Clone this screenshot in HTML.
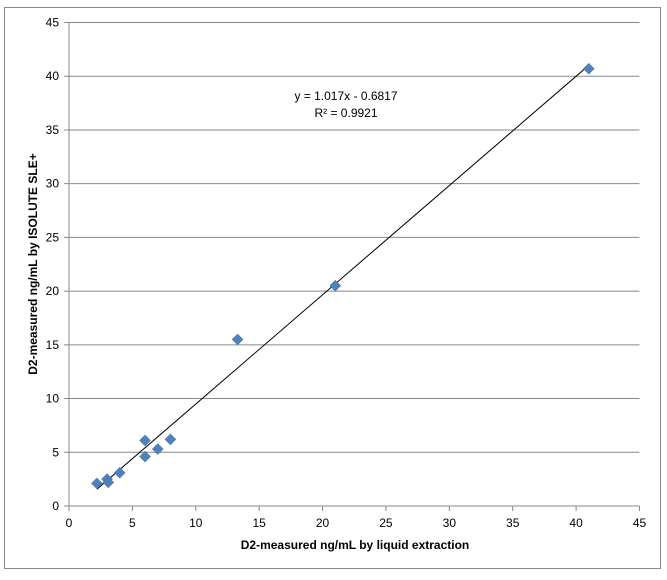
<!DOCTYPE html>
<html><head><meta charset="utf-8"><style>
body{margin:0;background:#fff;}
svg text{font-family:"Liberation Sans",sans-serif;}
</style></head><body>
<svg id="chart" width="667" height="575" xmlns="http://www.w3.org/2000/svg">
<rect x="4.5" y="7.5" width="656" height="561" fill="#fff" stroke="#888"/>
<g id="grid"></g><g id="ticks"></g><g id="marks"></g>
<text x="346" y="100" font-size="12" text-anchor="middle">y = 1.017x - 0.6817</text>
<text x="346" y="117" font-size="12" text-anchor="middle">R² = 0.9921</text>
<text x="355" y="549" font-size="12" font-weight="bold" text-anchor="middle">D2-measured ng/mL by liquid extraction</text>
<text transform="translate(37,264) rotate(-90)" font-size="12" font-weight="bold" text-anchor="middle">D2-measured ng/mL by ISOLUTE SLE+</text>
</svg>
<script>
const xTicks=[0,5,10,15,20,25,30,35,40,45];
const yTicks=[0,5,10,15,20,25,30,35,40,45];
const xValues=[2.2,3,3.1,4,6,6,7,8,13.3,21,41];
const yValues=[2.1,2.5,2.2,3.1,6.1,4.6,5.3,6.2,15.5,20.5,40.7];
const slope=1.017, intercept=-0.6817;
const X0=69,X1=639.5,Y0=506,Y1=22.5;
const sx=v=>X0+(v/45)*(X1-X0), sy=v=>Y0-(v/45)*(Y0-Y1);
const NS="http://www.w3.org/2000/svg";
function mk(t,a,p){const e=document.createElementNS(NS,t);for(const k in a)e.setAttribute(k,a[k]);p.appendChild(e);return e;}
const grid=document.getElementById('grid'),ticks=document.getElementById('ticks'),marks=document.getElementById('marks');
yTicks.forEach(v=>{
 const l=mk('line',{x1:X0-5,x2:X1,y1:sy(v),y2:sy(v),stroke:'#888','stroke-width':1},grid);
 
 
 const t=mk('text',{x:X0-10,y:sy(v)+4,'font-size':12,'text-anchor':'end'},ticks);t.textContent=v;
 
 
});
xTicks.forEach(v=>{
 const l=mk('line',{x1:sx(v),x2:sx(v),y1:Y0,y2:Y0+5,stroke:'#888'},grid);
 
 
 const t=mk('text',{x:sx(v),y:Y0+21,'font-size':12,'text-anchor':'middle'},ticks);t.textContent=v;
 
 
});
const ax=mk('line',{x1:X0,x2:X0,y1:Y1,y2:Y0,stroke:'#888'},grid);


const xmin=Math.min(...xValues),xmax=Math.max(...xValues);
const tl=mk('line',{x1:sx(xmin),y1:sy(slope*xmin+intercept),x2:sx(xmax),y2:sy(slope*xmax+intercept),stroke:'#000','stroke-width':1},marks);


xValues.forEach((x,i)=>{
 const cx=sx(x),cy=sy(yValues[i]),r=5.5;
 const p=mk('polygon',{points:`${cx},${cy-r} ${cx+r},${cy} ${cx},${cy+r} ${cx-r},${cy}`,fill:'#4f81bd',stroke:'#3c6aa0','stroke-width':0.5},marks);
 
 
});
</script>
</body></html>
